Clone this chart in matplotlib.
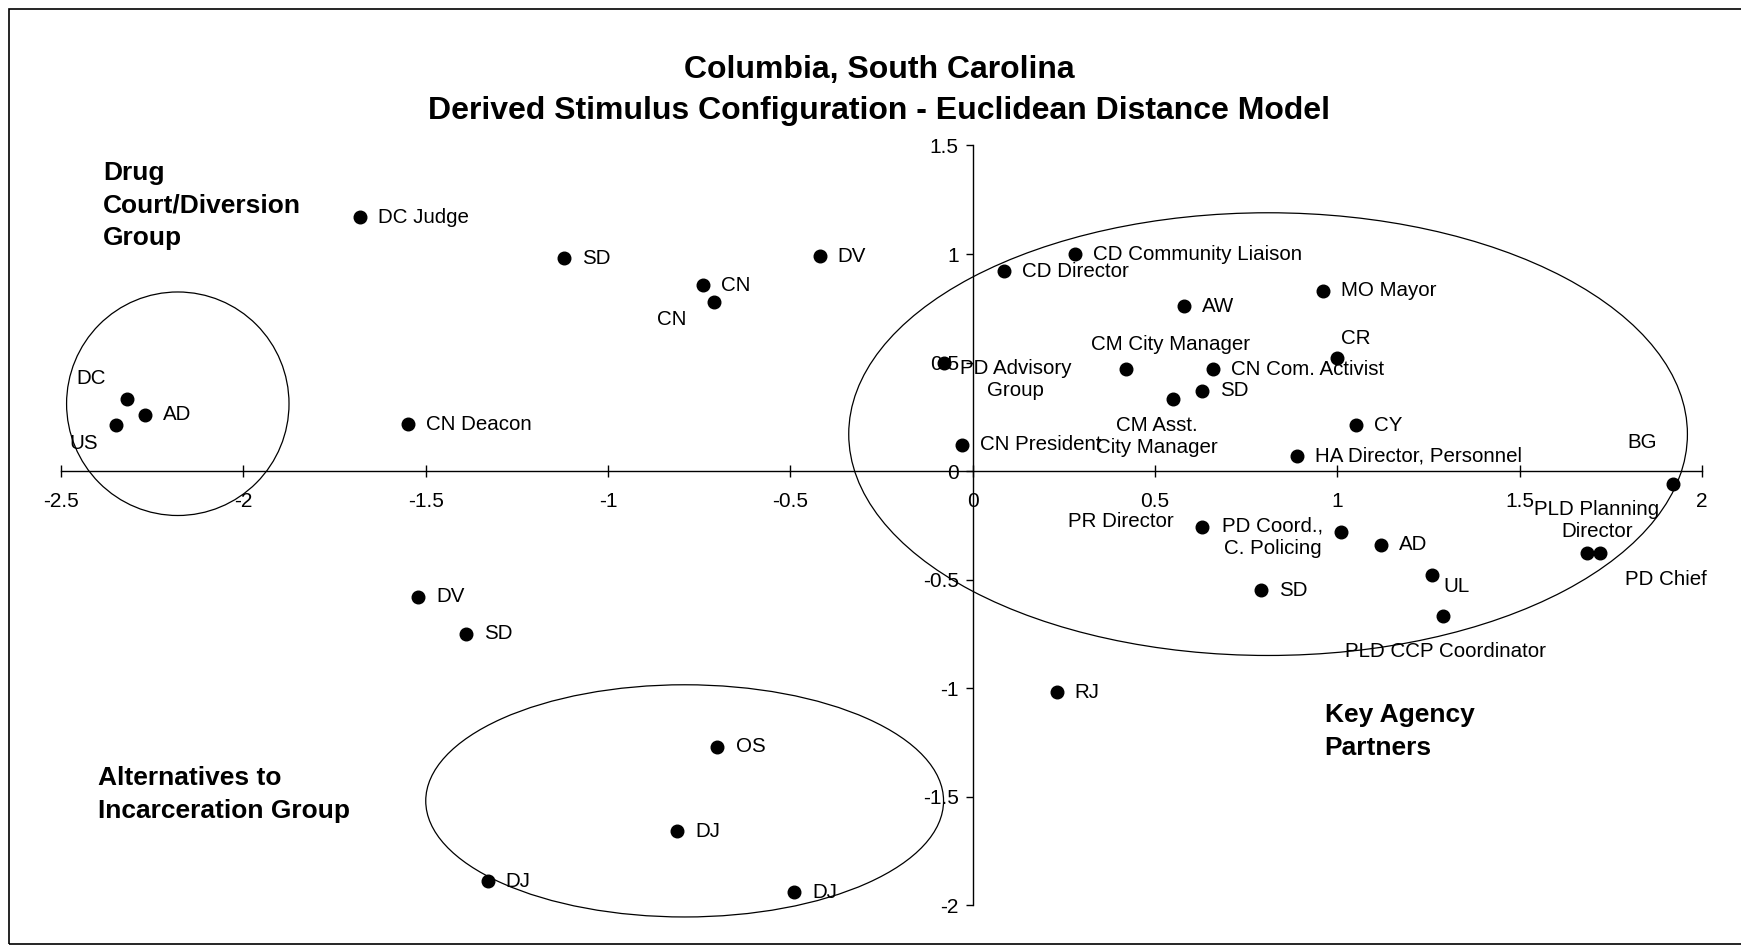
import matplotlib
matplotlib.use("Agg")
import matplotlib.pyplot as plt
from matplotlib.patches import Ellipse, Rectangle

plt.rcParams["font.family"] = ["Liberation Sans", "DejaVu Sans"]

# stimulus coordinates
labels = [
    "DC Judge", "SD", "DV", "CN", "CN", "DC", "AD", "US", "CN Deacon",
    "DV", "SD", "OS", "DJ", "DJ", "DJ", "RJ",
    "CD Community Liaison", "CD Director", "AW", "MO Mayor",
    "PD Advisory\nGroup", "CM City Manager", "CN Com. Activist", "CR", "SD",
    "CM Asst.\nCity Manager", "CY", "CN President", "HA Director, Personnel",
    "BG", "PR Director", "PD Coord.,\nC. Policing", "AD", "UL", "SD",
    "PLD CCP Coordinator", "PLD Planning\nDirector", "PD Chief",
]
dim1 = [
    -1.68, -1.12, -0.42, -0.74, -0.71, -2.32, -2.27, -2.35, -1.55,
    -1.52, -1.39, -0.70, -0.81, -1.33, -0.49, 0.23,
    0.28, 0.085, 0.58, 0.96,
    -0.08, 0.42, 0.66, 1.00, 0.63,
    0.55, 1.05, -0.03, 0.89,
    1.92, 0.63, 1.01, 1.12, 1.26, 0.79,
    1.29, 1.685, 1.72,
]
dim2 = [
    1.17, 0.98, 0.99, 0.855, 0.78, 0.33, 0.26, 0.21, 0.215,
    -0.58, -0.75, -1.27, -1.66, -1.89, -1.94, -1.02,
    1.00, 0.92, 0.76, 0.83,
    0.50, 0.47, 0.47, 0.52, 0.37,
    0.33, 0.21, 0.12, 0.07,
    -0.06, -0.26, -0.28, -0.34, -0.48, -0.55,
    -0.67, -0.38, -0.38,
]

# group outlines: centre x, centre y, width, height
groups_cx = [-2.18, 0.81, -0.79]
groups_cy = [0.31, 0.17, -1.52]
groups_w = [0.61, 2.30, 1.42]
groups_h = [1.03, 2.04, 1.07]

group_names = [
    "Drug\nCourt/Diversion\nGroup",
    "Alternatives to\nIncarceration Group",
    "Key Agency\nPartners",
]
group_name_x = [-2.385, -2.40, 0.965]
group_name_y = [1.225, -1.49, -1.20]

# label placement (offset in points, alignment); default is right of the dot
RIGHT = (13, 0, "left")
label_layout = {
    4: (-30, -13, "center"),
    5: (-26, 15, "center"),
    7: (-23, -13, "center"),
    20: (52, -12, "center"),
    21: (32, 18, "center"),
    23: (13, 14, "center"),
    25: (-12, -27, "center"),
    29: (-22, 30, "center"),
    30: (-21, 4, "right"),
    31: (-49, -4, "center"),
    33: (8, -8, "left"),
    35: (2, -25, "center"),
    36: (7, 24, "center"),
    37: (18, -19, "left"),
}

fig = plt.figure(figsize=(17.41, 9.46), dpi=100)
ax = fig.add_axes([0.0351, 0.0433, 0.9425, 0.8029])
ax.set_xlim(-2.5, 2)
ax.set_ylim(-2, 1.5)

ax.spines["left"].set_position("zero")
ax.spines["bottom"].set_position("zero")
ax.spines["top"].set_visible(False)
ax.spines["right"].set_visible(False)
for s in ("left", "bottom"):
    ax.spines[s].set_linewidth(1.0)

ax.set_xticks([-2.5, -2, -1.5, -1, -0.5, 0, 0.5, 1, 1.5, 2])
ax.set_xticklabels(["-2.5", "-2", "-1.5", "-1", "-0.5", "0", "0.5", "1", "1.5", "2"])
ax.set_yticks([-2, -1.5, -1, -0.5, 0, 0.5, 1, 1.5])
ax.set_yticklabels(["-2", "-1.5", "-1", "-0.5", "0", "0.5", "1", "1.5"])
ax.tick_params(axis="x", direction="inout", length=8, width=1, pad=11, labelsize=15)
ax.tick_params(axis="y", direction="out", length=5, width=1, pad=5, labelsize=15)

for cx, cy, w, h in zip(groups_cx, groups_cy, groups_w, groups_h):
    ax.add_patch(Ellipse((cx, cy), w, h, fill=False, edgecolor="black",
                         linewidth=0.9, clip_on=False))

ax.scatter(dim1, dim2, s=82, color="black", zorder=3, clip_on=False)

for i, (lab, x, y) in enumerate(zip(labels, dim1, dim2)):
    dx, dy, ha = label_layout.get(i, RIGHT)
    ax.annotate(lab, (x, y), xytext=(dx, dy), textcoords="offset points",
                ha=ha, va="center", multialignment="center", fontsize=14.8,
                annotation_clip=False)

for name, x, y in zip(group_names, group_name_x, group_name_y):
    ax.text(x, y, name, ha="left", va="center", fontsize=19,
            fontweight="bold", linespacing=1.45)

fig.text(0.505, 0.926, "Columbia, South Carolina", ha="center", va="center",
         fontsize=23, fontweight="bold")
fig.text(0.505, 0.883, "Derived Stimulus Configuration - Euclidean Distance Model",
         ha="center", va="center", fontsize=23, fontweight="bold")

fig.patches.append(Rectangle((0.0052, 0.002), 1.2, 0.9885, transform=fig.transFigure,
                             fill=False, edgecolor="black", linewidth=1.2))

fig.savefig("out.png", dpi=100)
